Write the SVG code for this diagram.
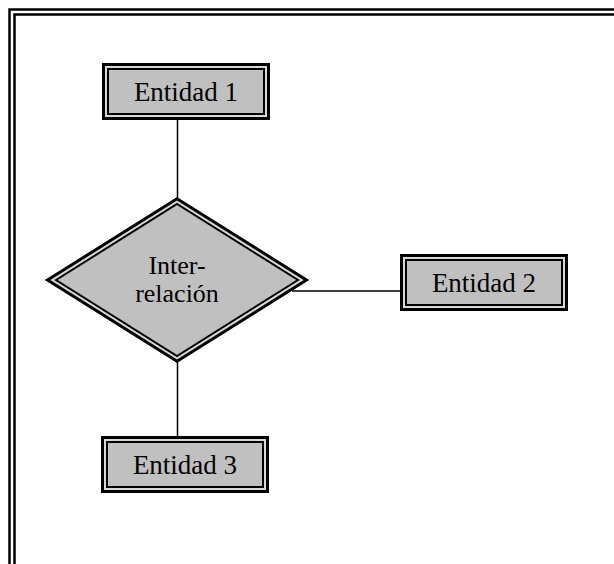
<svg xmlns="http://www.w3.org/2000/svg" width="614" height="564" viewBox="0 0 614 564">
  <style>
    .frame { fill: none; stroke: #000; stroke-width: 2.5; }
    .outer { fill: #d8d8d8; stroke: #000; stroke-width: 3; }
    .inner { fill: #c0c0c0; stroke: #000; stroke-width: 2; }
    .link { fill: none; stroke: #000; stroke-width: 1.5; }
    .label { font-family: "Liberation Serif", "Times New Roman", serif; font-size: 26px; fill: #000; text-anchor: middle; }
    .box-label { font-size: 27px; }
  </style>
  <rect width="614" height="564" fill="#fff"/>

  <!-- page frame, double rule on top and left -->
  <g id="frame">
    <path class="frame" d="M9.5,564 V9.5 H614"/>
    <path class="frame" d="M14.5,564 V14.5 H614"/>
  </g>

  <!-- connectors -->
  <g id="connectors">
    <line class="link" x1="177.5" y1="119" x2="177.5" y2="198"/>
    <line class="link" x1="177.5" y1="362" x2="177.5" y2="437"/>
    <line class="link" x1="292" y1="291" x2="400" y2="291"/>
  </g>

  <g id="entidad1">
    <rect class="outer" x="103.5" y="64.5" width="165" height="54"/>
    <rect class="inner" x="108" y="69" width="156" height="45"/>
    <text class="label box-label" x="186" y="101">Entidad 1</text>
  </g>

  <g id="interrelacion">
    <polygon class="outer" points="47.5,280 177,198.8 306.5,280 177,361.2"/>
    <polygon class="inner" points="56,280 177,204 298,280 177,356"/>
    <text class="label" x="177" y="274">Inter-</text>
    <text class="label" x="177" y="302">relación</text>
  </g>

  <g id="entidad2">
    <rect class="outer" x="401.5" y="255.5" width="165" height="54"/>
    <rect class="inner" x="406" y="260" width="156" height="45"/>
    <text class="label box-label" x="484" y="292">Entidad 2</text>
  </g>

  <g id="entidad3">
    <rect class="outer" x="102.5" y="437.5" width="165" height="54"/>
    <rect class="inner" x="107" y="442" width="156" height="45"/>
    <text class="label box-label" x="185" y="474">Entidad 3</text>
  </g>
</svg>
